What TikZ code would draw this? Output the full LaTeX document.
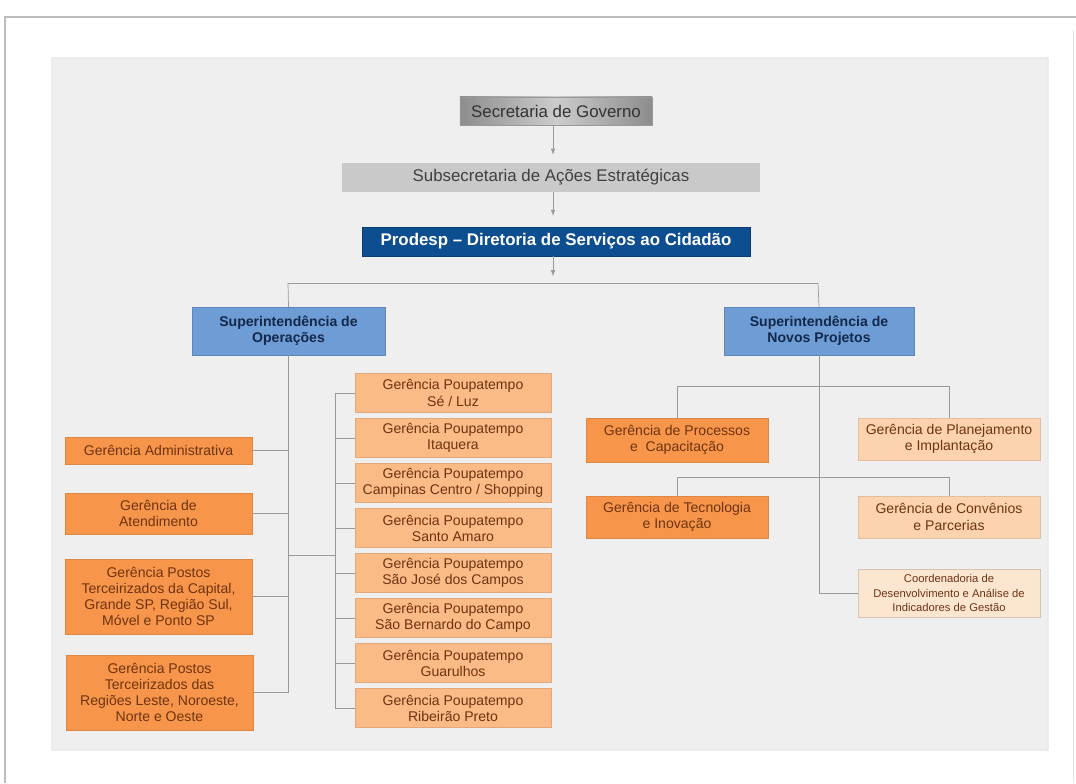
\documentclass[tikz,border=0pt]{standalone}
\usepackage{fontspec}
\setmainfont{Liberation Sans}
\usepackage{tikz}
\usetikzlibrary{positioning}

\definecolor{panelgray}{HTML}{EFEFEF}
\definecolor{framegray}{HTML}{BDBDBD}
\definecolor{linegray}{HTML}{9A9A9A}
\definecolor{subgray}{HTML}{C9C9C9}
\definecolor{prodblue}{HTML}{0C4E90}
\definecolor{supblue}{HTML}{6E9DD5}
\definecolor{supnavy}{HTML}{14284B}
\definecolor{darkorange}{HTML}{F7964A}
\definecolor{midorange}{HTML}{FBBB86}
\definecolor{lightorange}{HTML}{FCD3AE}
\definecolor{paleorange}{HTML}{FDE6D0}
\definecolor{boxtext}{HTML}{6E3412}

\begin{document}
\begin{tikzpicture}[>=latex,x=0.025cm,y=-0.025cm,node distance=1.125cm]

        \tikzstyle{conn} = [-, draw=linegray, line width=0.5pt];
        \tikzstyle{arr} = [->, draw=linegray, line width=0.5pt];
        \tikzstyle{top} = [rectangle, inner sep=0pt, text centered, font=\fontsize{12}{14}\selectfont];
        \tikzstyle{sup} = [rectangle, fill=supblue, draw=supblue!85!black, line width=0.3pt, minimum height=1.2cm, inner sep=0pt, align=center, text=supnavy, font=\bfseries\fontsize{10}{11.5}\selectfont];
        \tikzstyle{ger} = [rectangle, fill=darkorange, draw=darkorange!90!black, line width=0.3pt, minimum width=4.675cm, inner sep=0pt, align=center, text=boxtext, font=\fontsize{10}{11.5}\selectfont];
        \tikzstyle{poupa} = [ger, fill=midorange, draw=midorange!90!black, minimum width=4.9cm, minimum height=0.975cm];
        \tikzstyle{proj} = [ger, minimum width=4.55cm, minimum height=1.05cm];

        % page and panel
        \useasboundingbox (0,0) rectangle (1076,783);
        \fill[white] (0,0) rectangle (1076,783);
        \draw[framegray, line width=1.5pt] (5,783) -- (5,17) -- (1076,17);
        \draw[framegray!40, line width=0.6pt] (1073,30) -- (1073,783);
        \fill[panelgray] (52,58) rectangle (1048,750);
        \draw[black!8, line width=1pt] (52,58) rectangle (1048,750);

        % top of the chart
        \node[top, minimum width=4.8cm, minimum height=0.7cm, left color=black!45, right color=black!45, middle color=black!20, draw=black!40, text=black!80] (sec) at (556,111) {Secretaria de Governo};
        \node[top, minimum width=10.45cm, minimum height=0.725cm, fill=subgray, text=black!75] (subsec) at (551,177.5) {Subsecretaria de Ações Estratégicas};
        \node[top, minimum width=9.7cm, minimum height=0.725cm, fill=prodblue, draw=prodblue!80!black, text=white, font=\bfseries\fontsize{12}{14}\selectfont] (prod) at (556,241.5) {Prodesp -- Diretoria de Serviços ao Cidadão};
        \coordinate (bus) at (553,283);
        \coordinate (busL) at (288,283);
        \coordinate (busR) at (818,283);

        \draw[arr, shorten >=0.2cm] (sec.south -| bus) -- (subsec.north -| bus);
        \draw[arr, shorten >=0.27cm] (subsec.south -| bus) -- (prod.north -| bus);
        \draw[arr, shorten >=0.17cm] (prod.south -| bus) -- (bus);
        \draw[conn] (busL) -- (busR);

        % superintendencias
        \node[sup, minimum width=4.825cm] (opsup) at (288.5,331) {Superintendência de\\Operações};
        \node[sup, minimum width=4.75cm] (npsup) at (819,331) {Superintendência de\\Novos Projetos};
        \draw[conn] (busL) -- (opsup.north);
        \draw[conn] (busR) -- (npsup.north);

        % operacoes, left column
        \node[ger, minimum height=0.675cm] (adm) at (158.5,450.5) {Gerência Administrativa};
        \node[ger, minimum height=1.025cm] (atend) at (158.5,513.5) {Gerência de\\Atendimento};
        \node[ger, minimum height=1.875cm] (capital) at (158.5,596.5) {Gerência Postos\\Terceirizados da Capital,\\Grande SP, Região Sul,\\Móvel e Ponto SP};
        \node[ger, minimum height=1.875cm] (regioes) at (159.5,692.5) {Gerência Postos\\Terceirizados das\\Regiões Leste, Noroeste,\\Norte e Oeste};
        \draw[conn] (opsup.south) |- (adm.east);
        \draw[conn] (opsup.south) |- (atend.east);
        \draw[conn] (opsup.south) |- (capital.east);
        \draw[conn] (opsup.south) |- (regioes.east);

        % operacoes, poupatempo column
        \node[poupa] (se) at (453,393) {Gerência Poupatempo\\Sé / Luz};
        \node[poupa] (itaquera) [below of=se] {Gerência Poupatempo\\Itaquera};
        \node[poupa] (campinas) [below of=itaquera] {Gerência Poupatempo\\Campinas Centro / Shopping};
        \node[poupa] (amaro) [below of=campinas] {Gerência Poupatempo\\Santo Amaro};
        \node[poupa] (sjc) [below of=amaro] {Gerência Poupatempo\\São José dos Campos};
        \node[poupa] (sbc) [below of=sjc] {Gerência Poupatempo\\São Bernardo do Campo};
        \node[poupa] (guarulhos) [below of=sbc] {Gerência Poupatempo\\Guarulhos};
        \node[poupa] (ribeirao) [below of=guarulhos] {Gerência Poupatempo\\Ribeirão Preto};
        \coordinate (pbus) at (335,555);
        \draw[conn] (opsup.south) |- (pbus);
        \foreach \g in {se,itaquera,campinas,amaro,sjc,sbc,guarulhos,ribeirao}
            \draw[conn] (pbus) |- (\g.west);

        % novos projetos
        \node[proj, minimum height=1.1cm] (proc) at (677,440) {Gerência de Processos\\e~~Capacitação};
        \node[proj, fill=lightorange, draw=lightorange!90!black] (plan) at (949,439) {Gerência de Planejamento\\e Implantação};
        \node[proj] (tec) at (677,517) {Gerência de Tecnologia\\e Inovação};
        \node[proj, fill=lightorange, draw=lightorange!90!black] (conv) at (949,517) {Gerência de Convênios\\e Parcerias};
        \node[proj, fill=paleorange, draw=paleorange!85!black, minimum height=1.2cm, font=\fontsize{8}{10}\selectfont] (coord) at (949,593) {Coordenadoria de\\Desenvolvimento e Análise de\\Indicadores de Gestão};
        \draw[conn] (npsup.south) |- (coord.west);
        \draw[conn] (proc.north) -- ++(0,-31) -| (plan.north);
        \draw[conn] (tec.north) -- ++(0,-18) -| (conv.north);

    \end{tikzpicture}
\end{document}
